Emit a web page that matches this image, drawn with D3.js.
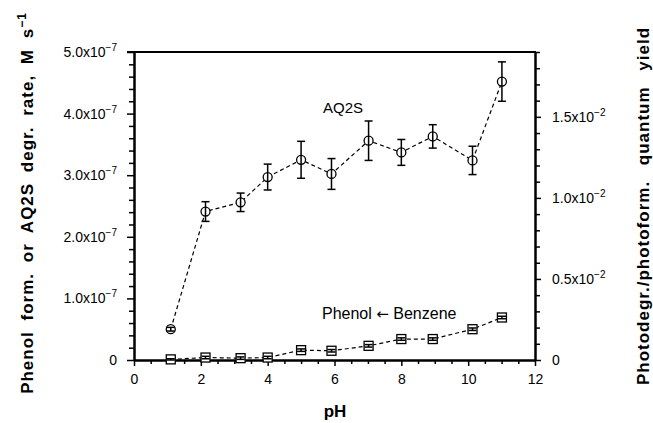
<!DOCTYPE html>
<html><head><meta charset="utf-8">
<script src="https://cdn.jsdelivr.net/npm/d3@7"></script>
<style>
body{margin:0;background:#fff;}
svg text{font-family:"Liberation Sans",Arial,Helvetica,sans-serif;fill:#000;}
</style></head>
<body>
<svg id="chart" width="653" height="423"></svg>
<script>
// ---- data ----
const pH        = [1.1, 2.14, 3.19, 4.0, 5.0, 5.91, 7.02, 8.0, 8.94, 10.13, 11.01];
const aq2sRate  = [0.50e-7, 2.41e-7, 2.56e-7, 2.97e-7, 3.25e-7, 3.02e-7, 3.56e-7, 3.37e-7, 3.63e-7, 3.24e-7, 4.52e-7];
const aq2sErr   = [0.03e-7, 0.16e-7, 0.15e-7, 0.21e-7, 0.30e-7, 0.25e-7, 0.32e-7, 0.21e-7, 0.19e-7, 0.23e-7, 0.32e-7];
const phenolRate= [0.01e-7, 0.04e-7, 0.03e-7, 0.04e-7, 0.16e-7, 0.15e-7, 0.23e-7, 0.34e-7, 0.34e-7, 0.50e-7, 0.69e-7];
const phenolErr = [0.01e-7, 0.02e-7, 0.02e-7, 0.02e-7, 0.02e-7, 0.02e-7, 0.02e-7, 0.02e-7, 0.02e-7, 0.02e-7, 0.02e-7];
const xTicks    = [0, 2, 4, 6, 8, 10, 12];
const leftTicks = [0, 1e-7, 2e-7, 3e-7, 4e-7, 5e-7];
const leftLabels= [["0",""], ["1.0x10","−7"], ["2.0x10","−7"], ["3.0x10","−7"], ["4.0x10","−7"], ["5.0x10","−7"]];
const rightTicks= [0, 0.005, 0.010, 0.015];
const rightLabels=[["0",""], ["0.5x10","−2"], ["1.0x10","−2"], ["1.5x10","−2"]];

// ---- layout ----
const svg = d3.select("#chart");
const L = 134, R = 535, T = 52, B = 360;
const x  = d3.scaleLinear().domain([0, 12]).range([L, R]);
const yL = d3.scaleLinear().domain([0, 5e-7]).range([B, T]);
const yR = d3.scaleLinear().domain([0, 0.019]).range([B, T]);

// minor ticks
const xMinor = d3.range(0, 12.01, 0.5).filter(v => Math.abs(v % 2) > 1e-9);
const lMinor = d3.range(0, 5.01e-7, 0.2e-7).filter((v,i) => i % 5 !== 0);
const rMinor = d3.range(0, 0.0191, 0.001).filter((v,i) => i % 5 !== 0);

const g = svg.append("g");

const bottomAxis = g.append("g").attr("transform", `translate(0,${B})`)
  .call(d3.axisBottom(x).tickValues(xTicks).tickSize(6).tickSizeOuter(0).tickPadding(8));
g.append("g").attr("transform", `translate(0,${B})`)
  .call(d3.axisBottom(x).tickValues(xMinor).tickSize(4).tickSizeOuter(0).tickFormat(""));
g.append("g").attr("transform", `translate(${L},0)`)
  .call(d3.axisLeft(yL).tickValues(leftTicks).tickSize(7).tickSizeOuter(0).tickFormat(""));
g.append("g").attr("transform", `translate(${L},0)`)
  .call(d3.axisLeft(yL).tickValues(lMinor).tickSize(5).tickSizeOuter(0).tickFormat(""));
g.append("g").attr("transform", `translate(${R},0)`)
  .call(d3.axisRight(yR).tickValues(rightTicks).tickSize(6).tickSizeOuter(0).tickFormat(""));
g.append("g").attr("transform", `translate(${R},0)`)
  .call(d3.axisRight(yR).tickValues(rMinor).tickSize(5).tickSizeOuter(0).tickFormat(""));

g.selectAll(".domain").attr("stroke", "#000").attr("stroke-width", 2);
g.selectAll(".tick line").attr("stroke", "#000").attr("stroke-width", 1.5);
bottomAxis.selectAll(".tick text").attr("font-size", 14).style("font-family", '"Liberation Sans",Arial,sans-serif');

// top frame
g.append("line").attr("x1", L - 7).attr("x2", R + 1).attr("y1", T).attr("y2", T)
  .attr("stroke", "#000").attr("stroke-width", 2);

// tick labels with superscripts
leftTicks.forEach((v, i) => {
  const t = g.append("text").attr("x", L - 17).attr("y", yL(v) + 5)
    .attr("text-anchor", "end").attr("font-size", 14);
  t.append("tspan").text(leftLabels[i][0]);
  if (leftLabels[i][1]) t.append("tspan").attr("dy", -6).attr("font-size", 10).text(leftLabels[i][1]);
});
rightTicks.forEach((v, i) => {
  const t = g.append("text").attr("x", R + 17).attr("y", yR(v) + 5)
    .attr("text-anchor", "start").attr("font-size", 14);
  t.append("tspan").text(rightLabels[i][0]);
  if (rightLabels[i][1]) t.append("tspan").attr("dy", -6).attr("font-size", 10).text(rightLabels[i][1]);
});

// axis titles
g.append("text").attr("x", 335).attr("y", 417).attr("text-anchor", "middle")
  .attr("font-size", 17).attr("font-weight", "bold").text("pH");
const lt = g.append("text").attr("transform", "translate(33,203) rotate(-90)")
  .attr("text-anchor", "middle").attr("font-size", 17).attr("font-weight", "bold")
  .attr("letter-spacing", 1).attr("word-spacing", 5);
lt.append("tspan").text("Phenol form. or AQ2S degr. rate, M s");
lt.append("tspan").attr("dy", -7).attr("font-size", 12).text("−1");
g.append("text").attr("transform", "translate(649,206) rotate(-90)")
  .attr("text-anchor", "middle").attr("font-size", 17).attr("font-weight", "bold")
  .attr("letter-spacing", 1).attr("word-spacing", 10)
  .text("Photodegr./photoform. quantum yield");

// series lines
const lineGen = (vals) => d3.line().x((d, i) => x(pH[i])).y(d => yL(d))(vals);
g.append("path").attr("d", lineGen(aq2sRate)).attr("fill", "none").attr("stroke", "#000")
  .attr("stroke-width", 1.2).attr("stroke-dasharray", "4,3");
g.append("path").attr("d", lineGen(phenolRate)).attr("fill", "none").attr("stroke", "#000")
  .attr("stroke-width", 1.2).attr("stroke-dasharray", "4,3");

// markers
g.selectAll(".circ").data(aq2sRate).enter().append("circle")
  .attr("cx", (d, i) => x(pH[i])).attr("cy", d => yL(d)).attr("r", 4.5)
  .attr("fill", "#fff").attr("stroke", "#000").attr("stroke-width", 1.3);
g.selectAll(".sq").data(phenolRate).enter().append("rect")
  .attr("x", (d, i) => x(pH[i]) - 4.5).attr("y", d => yL(d) - 4.5)
  .attr("width", 9).attr("height", 9)
  .attr("fill", "#fff").attr("stroke", "#000").attr("stroke-width", 1.3);

// error bars
function errBars(vals, errs, cap) {
  vals.forEach((v, i) => {
    const cx = x(pH[i]), y1 = yL(v + errs[i]), y2 = yL(v - errs[i]);
    g.append("line").attr("x1", cx).attr("x2", cx).attr("y1", y1).attr("y2", y2)
      .attr("stroke", "#000").attr("stroke-width", 1.5);
    [y1, y2].forEach(yy => g.append("line").attr("x1", cx - cap).attr("x2", cx + cap)
      .attr("y1", yy).attr("y2", yy).attr("stroke", "#000").attr("stroke-width", 1.5));
  });
}
errBars(aq2sRate, aq2sErr, 4);
errBars(phenolRate, phenolErr, 4);

// annotations
g.append("text").attr("x", 323).attr("y", 113).attr("font-size", 15).text("AQ2S");
const pb = g.append("text").attr("x", 322).attr("y", 319).attr("font-size", 16);
pb.append("tspan").text("Phenol ");
pb.append("tspan").style("font-family", '"DejaVu Sans",sans-serif').attr("font-size", 15).text("←");
pb.append("tspan").text(" Benzene");
</script>
</body></html>
